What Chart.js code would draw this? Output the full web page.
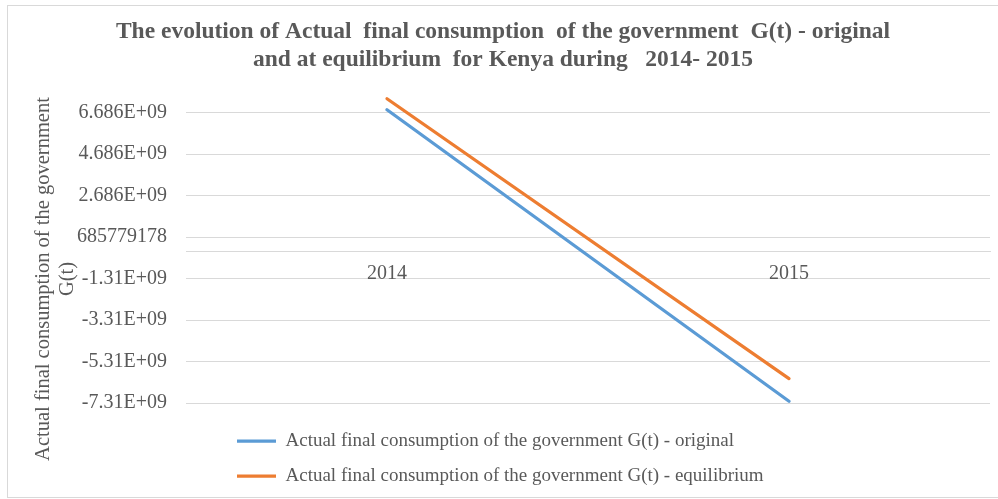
<!DOCTYPE html>
<html>
<head>
<meta charset="utf-8">
<script src="https://cdn.jsdelivr.net/npm/chart.js@4/dist/chart.umd.min.js"></script>
<style>
html,body{margin:0;padding:0;background:#fff;}
#wrap{width:998px;height:499px;position:relative;}
</style>
</head>
<body>
<div id="wrap"><canvas id="c" width="998" height="499"></canvas></div>
<script>
// ---- data ----
const years = ['2014', '2015'];
const originalValues = [6.83e9, -7.23e9];
const equilibriumValues = [7.36e9, -6.14e9];
const yTickValues = [-7314220822, -5314220822, -3314220822, -1314220822, 685779178, 2685779178, 4685779178, 6685779178];
const yTickLabels = ['-7.31E+09', '-5.31E+09', '-3.31E+09', '-1.31E+09', '685779178', '2.686E+09', '4.686E+09', '6.686E+09'];
const seriesNames = [
  'Actual final consumption of the government G(t) - original',
  'Actual final consumption of the government G(t) - equilibrium'
];
const titleLines = [
  'The evolution of Actual  final consumption  of the government  G(t) - original',
  'and at equilibrium  for Kenya during   2014- 2015'
];
const yAxisTitleLines = ['Actual final consumption of the government', 'G(t)'];
const yMin = -7314220822;
const yMax = 7.88e9;

const FAMILY = "'Liberation Serif', 'Times New Roman', serif";
const TEXT = '#595959';
const GRID = '#d9d9d9';

const decor = {
  id: 'decor',
  afterLayout(chart) {
    const lg = chart.legend;
    if (lg) {
      const dx = 221 - lg.left, dy = 415.5 - lg.top;
      lg.left += dx; lg.right += dx; lg.top += dy; lg.bottom += dy;
    }
    const t = chart.titleBlock;
    if (t) { t.left += 8; t.right += 8; }
  },
  beforeDraw(chart) {
    const ctx = chart.ctx;
    ctx.save();
    ctx.fillStyle = '#ffffff';
    ctx.fillRect(0, 0, chart.width, chart.height);
    ctx.strokeStyle = GRID;
    ctx.lineWidth = 1;
    ctx.strokeRect(7.5, 5.5, 1000, 492);
    ctx.restore();
  },
  afterDraw(chart) {
    const ctx = chart.ctx;
    ctx.save();
    ctx.fillStyle = TEXT;
    ctx.font = '20.5px ' + FAMILY;
    ctx.textAlign = 'center';
    ctx.textBaseline = 'middle';
    ctx.translate(44, 279);
    ctx.rotate(-Math.PI / 2);
    ctx.fillText(yAxisTitleLines[0], 0, 0);
    ctx.fillText(yAxisTitleLines[1], 0, 24);
    ctx.restore();
  }
};

new Chart(document.getElementById('c'), {
  type: 'line',
  data: {
    labels: years,
    datasets: [
      {
        label: seriesNames[0],
        data: originalValues,
        borderColor: '#5b9bd5',
        backgroundColor: '#5b9bd5',
        borderWidth: 3.25,
        borderCapStyle: 'round',
        pointRadius: 0,
        pointHoverRadius: 0,
        tension: 0
      },
      {
        label: seriesNames[1],
        data: equilibriumValues,
        borderColor: '#ed7d31',
        backgroundColor: '#ed7d31',
        borderWidth: 3.25,
        borderCapStyle: 'round',
        pointRadius: 0,
        pointHoverRadius: 0,
        tension: 0
      }
    ]
  },
  options: {
    responsive: false,
    animation: false,
    devicePixelRatio: 1,
    layout: { padding: { top: 0, left: 0, right: 8, bottom: 16 } },
    plugins: {
      title: {
        display: true,
        text: titleLines,
        color: TEXT,
        font: { family: FAMILY, size: 23.5, weight: 'bold', lineHeight: 1.19 },
        padding: { top: 18, bottom: 14 }
      },
      legend: {
        display: true,
        position: 'bottom',
        align: 'start',
        labels: {
          usePointStyle: true,
          pointStyle: 'line',
          pointStyleWidth: 39,
          padding: 16,
          color: TEXT,
          font: { family: FAMILY, size: 19 }
        }
      },
      tooltip: { enabled: false }
    },
    scales: {
      x: {
        type: 'category',
        offset: true,
        position: { y: 0 },
        grid: { display: false, drawTicks: false },
        border: { display: true, color: GRID, width: 1 },
        ticks: { padding: 10, color: TEXT, font: { family: FAMILY, size: 20 }, maxRotation: 0 }
      },
      y: {
        type: 'linear',
        min: yMin,
        max: yMax,
        afterBuildTicks: (s) => { s.ticks = yTickValues.map(v => ({ value: v })); },
        afterFit: (s) => { s.width = 186; },
        grid: { color: GRID, lineWidth: 1, drawTicks: false },
        border: { display: false },
        ticks: {
          padding: 19,
          color: TEXT,
          font: { family: FAMILY, size: 20 },
          callback: (v) => { const i = yTickValues.indexOf(v); return i >= 0 ? yTickLabels[i] : ''; }
        }
      }
    }
  },
  plugins: [decor]
});
</script>
</body>
</html>
